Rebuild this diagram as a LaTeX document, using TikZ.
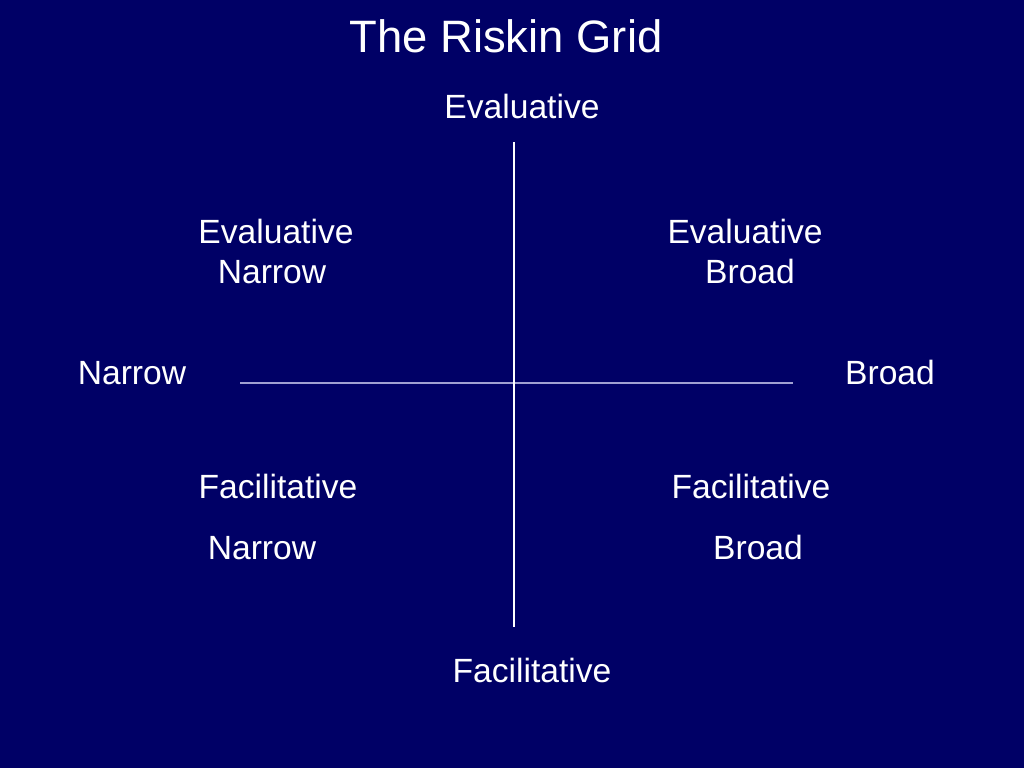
\documentclass[tikz,border=0pt]{standalone}
\usepackage{fontspec}
\setmainfont{Liberation Sans}
\usepackage{tikz}

\begin{document}
\begin{tikzpicture}[x=0.25mm, y=-0.25mm,
    lbl/.style={text=white, inner sep=0pt, anchor=base, font=\fontsize{23.9}{28}\selectfont}]
    \definecolor{slidebg}{RGB}{0,0,102}
    \definecolor{hline}{RGB}{160,160,210}

    % slide background
    \fill[slidebg] (0,0) rectangle (1024,768);
    \useasboundingbox (0,0) rectangle (1024,768);

    % title
    \node[lbl, font=\fontsize{32.3}{38}\selectfont] (title) at (506,52) {The Riskin Grid};

    % axis end labels
    \node[lbl] (evalTop)     at (522,118) {Evaluative};
    \node[lbl] (facilBottom) at (532,682) {Facilitative};
    \node[lbl] (narrowLeft)  at (132,384) {Narrow};
    \node[lbl] (broadRight)  at (890,384) {Broad};

    % quadrant labels
    \node[lbl] (evalNW)   at (276,243) {Evaluative};
    \node[lbl] (narrowNW) at (272,283) {Narrow};
    \node[lbl] (evalNE)   at (745,243) {Evaluative};
    \node[lbl] (broadNE)  at (750,283) {Broad};
    \node[lbl] (facilSW)  at (278,498) {Facilitative};
    \node[lbl] (narrowSW) at (262,559) {Narrow};
    \node[lbl] (facilSE)  at (751,498) {Facilitative};
    \node[lbl] (broadSE)  at (758,559) {Broad};

    % axes
    \coordinate (vtop) at (514,142);
    \coordinate (vbot) at (514,627);
    \coordinate (hleft) at (240,383);
    \coordinate (hright) at (793,383);
    \draw[hline, line width=0.5mm] (hleft) -- (hright);
    \draw[white, line width=0.4mm] (vtop) -- (vbot);
\end{tikzpicture}
\end{document}
